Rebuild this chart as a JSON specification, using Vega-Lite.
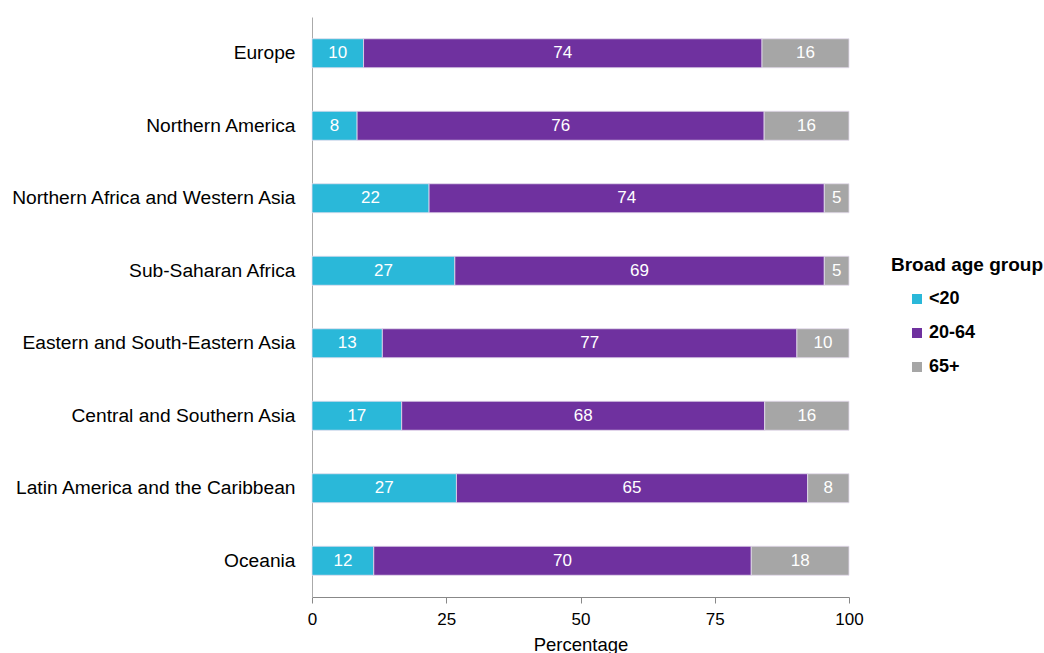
{
  "$schema": "https://vega.github.io/schema/vega-lite/v6.json",
  "autosize": {"type": "none"},
  "padding": {"left": 312, "top": 17, "right": 195, "bottom": 56},
  "width": 537,
  "height": 580,
  "background": "white",
  "config": {
    "font": "Liberation Sans",
    "view": {"stroke": null}
  },
  "data": {
    "values": [
      {"region": "Europe", "group": "<20", "value": 9.6},
      {"region": "Europe", "group": "20-64", "value": 74.2},
      {"region": "Europe", "group": "65+", "value": 16.2},
      {"region": "Northern America", "group": "<20", "value": 8.4},
      {"region": "Northern America", "group": "20-64", "value": 75.8},
      {"region": "Northern America", "group": "65+", "value": 15.8},
      {"region": "Northern Africa and Western Asia", "group": "<20", "value": 21.8},
      {"region": "Northern Africa and Western Asia", "group": "20-64", "value": 73.6},
      {"region": "Northern Africa and Western Asia", "group": "65+", "value": 4.6},
      {"region": "Sub-Saharan Africa", "group": "<20", "value": 26.6},
      {"region": "Sub-Saharan Africa", "group": "20-64", "value": 68.8},
      {"region": "Sub-Saharan Africa", "group": "65+", "value": 4.6},
      {"region": "Eastern and South-Eastern Asia", "group": "<20", "value": 13.1},
      {"region": "Eastern and South-Eastern Asia", "group": "20-64", "value": 77.2},
      {"region": "Eastern and South-Eastern Asia", "group": "65+", "value": 9.7},
      {"region": "Central and Southern Asia", "group": "<20", "value": 16.7},
      {"region": "Central and Southern Asia", "group": "20-64", "value": 67.6},
      {"region": "Central and Southern Asia", "group": "65+", "value": 15.7},
      {"region": "Latin America and the Caribbean", "group": "<20", "value": 26.9},
      {"region": "Latin America and the Caribbean", "group": "20-64", "value": 65.4},
      {"region": "Latin America and the Caribbean", "group": "65+", "value": 7.7},
      {"region": "Oceania", "group": "<20", "value": 11.5},
      {"region": "Oceania", "group": "20-64", "value": 70.3},
      {"region": "Oceania", "group": "65+", "value": 18.2}
    ]
  },
  "transform": [
    {"stack": "value", "groupby": ["region"], "as": ["v0", "v1"]},
    {"calculate": "(datum.v0 + datum.v1) / 2", "as": "vmid"}
  ],
  "encoding": {
    "y": {
      "field": "region",
      "type": "nominal",
      "sort": null,
      "scale": {"paddingInner": 0.6, "paddingOuter": 0.3},
      "axis": {
        "title": null,
        "ticks": false,
        "labelPadding": 17,
        "labelFontSize": 19.2,
        "labelColor": "#000000",
        "labelLimit": 400,
        "domainColor": "#aaaaaa",
        "domainWidth": 1
      }
    }
  },
  "layer": [
    {
      "mark": {"type": "bar", "stroke": "#e4dcee", "strokeWidth": 0.8},
      "encoding": {
        "x": {
          "field": "v0",
          "type": "quantitative",
          "scale": {"domain": [0, 100], "nice": false},
          "axis": {
            "title": "Percentage",
            "values": [0, 25, 50, 75, 100],
            "grid": false,
            "tickSize": 6,
            "tickColor": "#888888",
            "domainColor": "#888888",
            "labelFontSize": 17,
            "labelColor": "#000000",
            "labelPadding": 8,
            "labelFlush": false,
            "titleFontSize": 18.5,
            "titleFontWeight": "normal",
            "titleColor": "#000000",
            "titlePadding": 8
          }
        },
        "x2": {"field": "v1"},
        "color": {
          "field": "group",
          "type": "nominal",
          "sort": ["<20", "20-64", "65+"],
          "scale": {"domain": ["<20", "20-64", "65+"], "range": ["#2ab8d9", "#6f319f", "#a6a6a6"]},
          "legend": {
            "title": "Broad age group",
            "orient": "none",
            "legendX": 579,
            "legendY": 239,
            "titleFontSize": 19,
            "titleFontWeight": "bold",
            "titleColor": "#000000",
            "titlePadding": 15,
            "labelFontSize": 18,
            "labelFontWeight": "bold",
            "labelColor": "#000000",
            "symbolType": "square",
            "symbolSize": 100,
            "symbolStrokeWidth": 0,
            "symbolOffset": 17,
            "labelOffset": 3,
            "rowPadding": 16
          }
        }
      }
    },
    {
      "mark": {"type": "text", "color": "white", "fontSize": 17, "baseline": "middle", "align": "center"},
      "encoding": {
        "x": {"field": "vmid", "type": "quantitative"},
        "text": {"field": "value", "type": "quantitative", "format": ".0f"}
      }
    }
  ]
}
